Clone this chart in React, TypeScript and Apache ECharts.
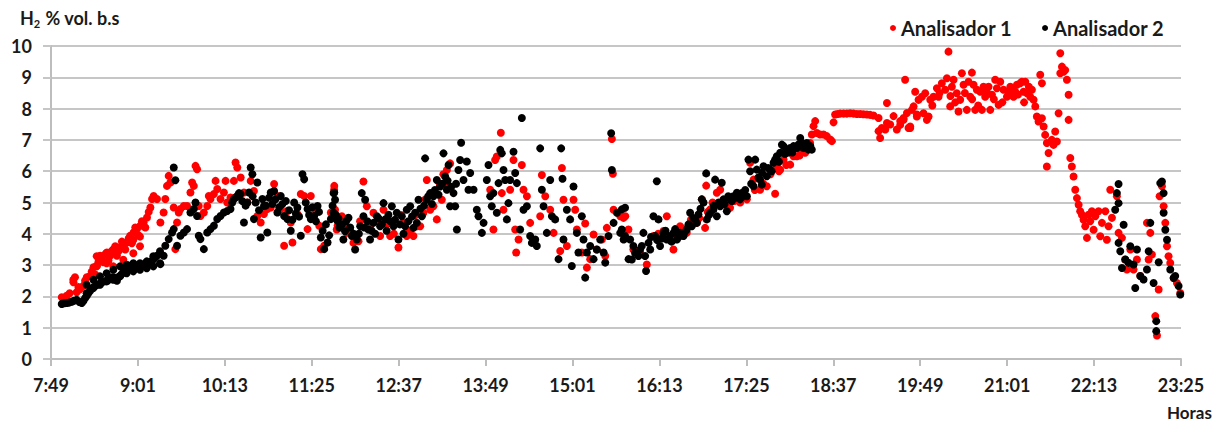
import React, { useEffect, useRef } from "react";
import * as echarts from "echarts";

// x = minutes after 7:49, y = H2 % vol. b.s
const START_MINUTES = 7 * 60 + 49;
const X_TICKS_STEP = 72;
const X_MAX = 936;

const analisador1: [number, number][] = [
  [8.9, 1.97], [13.0, 2.02], [15.5, 2.1], [18.6, 2.45], [19.9, 2.61], [21.3, 2.13], [24.1, 2.23], [26.9, 2.34],
  [22.7, 2.3], [28.2, 2.5], [33.8, 2.8], [36.6, 2.7], [39.3, 3.1], [42.1, 3.2], [44.9, 3.35], [47.6, 3.15],
  [50.4, 3.45], [53.2, 3.6], [56.0, 3.45], [58.7, 3.75], [61.5, 3.5], [64.3, 3.85], [67.0, 3.7], [69.8, 4.2],
  [72.6, 3.95], [75.3, 4.4], [78.1, 4.2], [80.9, 4.7],
  [18.5, 2.53], [37.9, 3.28], [37.9, 2.96], [46.1, 3.38], [46.1, 3.06], [51.6, 3.49], [51.6, 2.96], [59.9, 3.6],
  [59.9, 3.17], [68.2, 3.81], [68.2, 3.38], [73.7, 3.91], [73.7, 3.6],
  [29.6, 2.61], [32.4, 2.66], [35.2, 2.93], [37.9, 2.98], [40.7, 3.3], [43.5, 3.09], [46.3, 3.4], [49.0, 3.3],
  [51.8, 3.51], [54.6, 3.3], [57.3, 3.56], [60.1, 3.62], [62.9, 3.72], [65.6, 3.94], [68.4, 4.04], [71.2, 4.15],
  [74.0, 4.26], [76.7, 4.36], [79.5, 4.52], [82.3, 4.84], [83.7, 5.11], [85.0, 5.21], [87.8, 5.11], [90.6, 4.36],
  [93.3, 4.68], [94.7, 5.11], [96.1, 5.53], [97.5, 5.85], [98.9, 5.64], [101.7, 4.84], [103.0, 3.51], [104.4, 4.36],
  [105.8, 4.68], [107.2, 4.79], [110.0, 4.89], [112.7, 4.89], [115.5, 5.32], [116.9, 5.64], [118.3, 5.53], [119.7, 6.17],
  [121.0, 6.06], [122.4, 4.89], [123.8, 4.57], [126.6, 4.68], [129.4, 4.89], [130.7, 5.21], [132.1, 5.11], [134.9, 5.27],
  [136.3, 5.69], [137.7, 5.43], [140.4, 5.11], [143.2, 5.32], [144.6, 5.69], [146.0, 5.0], [148.7, 5.16], [151.5, 5.69],
  [152.9, 6.28], [154.3, 6.12], [157.1, 5.8], [159.8, 5.32], [162.6, 5.0], [165.4, 5.69], [168.1, 5.37], [170.9, 4.57],
  [173.7, 4.36], [176.4, 4.63], [179.2, 4.79], [182.0, 4.84], [184.8, 5.59], [187.5, 5.21], [190.3, 4.79], [193.1, 3.62],
  [195.8, 4.73], [198.6, 4.36], [200.0, 3.72], [204.1, 4.63], [206.9, 5.27], [209.7, 5.21], [212.5, 4.15], [215.2, 5.21],
  [218.0, 4.79], [222.2, 4.26], [223.5, 3.51], [226.3, 3.62], [231.8, 4.68], [234.6, 5.53], [237.4, 4.26],
  [234.5, 5.41], [235.3, 4.77], [236.7, 4.14], [240.9, 4.56], [245.0, 4.03], [250.5, 3.71], [254.7, 3.76], [258.8, 5.67],
  [243.0, 4.3], [248.0, 4.1], [252.0, 3.9], [256.0, 4.4], [264.0, 4.2], [270.0, 4.4], [278.0, 4.3], [284.0, 4.0],
  [290.0, 4.6], [297.0, 4.1], [302.0, 4.6], [310.0, 5.1], [318.0, 5.3], [322.0, 5.6], [325.0, 5.9],
  [261.6, 4.88], [267.1, 4.67], [272.6, 3.93], [275.4, 4.77], [280.9, 3.93], [287.8, 3.56], [292.0, 4.35], [294.7, 3.93],
  [300.2, 3.93], [303.0, 4.24], [305.8, 4.24], [308.5, 4.67], [311.3, 5.72], [314.1, 4.77], [316.8, 4.88], [319.6, 4.46],
  [323.7, 5.09], [326.5, 5.62], [327.9, 6.04], [330.6, 6.25], [363.8, 5.41], [366.5, 4.14], [367.9, 6.36], [369.3, 6.47],
  [372.6, 7.23], [373.4, 5.3], [374.8, 4.77], [380.3, 5.41], [383.1, 6.36], [384.5, 4.14], [385.3, 3.4], [387.3, 3.82],
  [390.0, 6.2], [391.4, 5.41], [394.2, 5.2], [396.9, 4.35], [405.2, 4.56], [406.6, 5.88], [409.4, 5.2], [413.5, 4.77],
  [416.3, 4.03], [421.8, 3.45], [423.2, 6.1], [424.5, 5.09], [427.3, 3.61], [432.8, 5.09], [434.2, 4.77], [435.6, 4.14],
  [439.7, 3.4], [442.5, 4.33], [443.9, 2.92], [446.6, 3.19], [449.4, 3.98], [452.1, 3.5], [456.3, 3.82], [459.1, 3.29],
  [460.4, 4.19], [464.6, 7.03], [465.4, 5.92], [466.0, 4.77], [471.5, 4.56], [475.7, 4.56],
  [474.2, 4.51], [478.3, 4.14], [482.4, 3.5], [487.9, 3.39], [493.5, 3.02], [499.0, 3.93], [507.3, 4.09], [510.1, 4.56],
  [503.0, 4.0], [512.0, 3.9], [518.0, 4.0], [524.0, 4.15], [530.0, 4.45], [537.0, 4.5], [544.0, 4.7], [548.0, 5.0],
  [556.0, 5.0], [560.0, 4.9], [566.0, 5.05], [574.0, 5.2], [583.0, 5.4], [590.0, 5.6], [596.0, 5.9], [603.0, 6.0],
  [609.0, 6.2], [620.0, 6.5], [626.0, 6.7],
  [515.6, 3.5], [521.1, 4.24], [526.6, 4.03], [534.9, 4.35], [539.1, 5.1], [541.8, 4.19], [542.7, 5.54], [546.0, 4.78],
  [551.5, 5.31], [554.3, 5.41], [557.0, 4.94], [562.5, 4.83], [570.8, 5.0], [576.4, 5.1], [579.1, 6.27], [581.9, 5.73],
  [587.4, 5.41], [592.9, 5.52], [599.8, 5.28], [601.2, 6.16], [604.0, 6.05], [606.8, 6.37], [612.3, 6.21], [615.0, 6.48],
  [617.8, 6.48], [621.9, 6.64], [624.7, 6.59], [628.8, 6.9], [630.2, 7.17], [631.6, 7.44], [633.0, 7.6], [634.4, 7.22],
  [637.1, 7.17], [639.9, 7.17], [642.6, 7.12], [645.4, 7.01], [646.8, 6.96], [648.2, 7.56], [649.5, 7.81], [651.5, 7.83],
  [653.7, 7.84], [656.5, 7.84], [659.2, 7.84], [662.0, 7.85], [664.7, 7.84], [667.5, 7.83], [670.3, 7.83], [673.0, 7.82],
  [675.8, 7.81], [678.5, 7.8], [681.3, 7.78], [685.5, 7.7], [685.5, 7.28], [686.8, 7.06], [688.2, 7.38], [691.0, 7.33],
  [692.4, 7.54], [692.4, 8.18], [695.1, 7.49], [697.9, 7.76], [700.6, 7.33], [703.4, 7.6], [706.2, 7.7], [709.0, 7.86],
  [711.7, 7.38], [714.5, 8.07], [717.2, 7.81],
  [703.4, 7.48], [706.2, 7.64], [707.5, 8.92], [710.3, 7.38], [711.7, 7.43], [713.1, 7.96], [715.8, 8.54], [717.2, 7.75],
  [718.6, 8.28], [721.4, 8.38], [722.7, 7.85], [724.1, 8.49], [725.5, 7.64], [726.9, 7.75], [728.3, 8.28], [731.0, 8.38],
  [730.0, 8.1], [736.0, 8.5], [745.0, 8.4], [749.0, 8.2], [757.0, 8.5], [763.0, 8.3], [768.0, 8.1], [775.0, 8.55],
  [781.0, 8.3], [788.0, 8.2], [796.0, 8.6], [801.0, 8.45], [806.0, 8.2], [810.0, 8.7],
  [733.8, 8.65], [735.2, 8.38], [737.9, 8.81], [740.7, 8.6], [742.1, 8.97], [743.4, 9.82], [744.8, 8.07], [746.2, 8.7],
  [747.6, 8.92], [750.3, 8.49], [751.7, 7.91], [753.1, 8.28], [754.5, 9.13], [755.9, 8.76], [758.6, 7.96], [760.0, 8.86],
  [761.4, 8.38], [762.8, 9.15], [764.2, 8.76], [765.5, 7.96], [766.9, 8.6], [769.7, 8.54], [771.1, 7.96], [772.4, 8.7],
  [773.8, 8.38], [776.6, 8.7], [778.0, 7.96], [779.4, 8.44], [782.1, 8.92], [783.5, 8.65], [784.9, 8.12], [786.3, 8.86],
  [789.0, 8.6], [791.8, 8.38], [793.2, 8.54], [794.6, 8.7], [797.3, 8.38], [798.7, 8.54], [800.1, 8.76], [802.8, 8.81],
  [804.2, 8.86], [805.6, 8.54], [807.0, 8.86], [808.4, 8.49], [811.1, 8.38], [812.5, 8.6], [813.9, 8.28], [815.3, 8.07],
  [816.6, 7.75], [818.0, 7.59], [819.4, 9.08], [820.8, 8.81], [820.8, 7.69], [822.2, 7.43], [823.5, 7.16], [824.9, 6.9],
  [824.9, 6.15], [826.3, 6.58], [829.0, 7.0], [830.4, 6.84], [831.8, 7.27], [833.2, 6.95], [834.6, 7.85], [836.0, 9.77],
  [836.0, 9.13], [837.4, 9.34], [838.7, 9.18], [840.1, 9.23], [841.5, 8.92], [842.9, 8.44], [842.9, 7.64], [844.3, 6.42],
  [845.6, 6.15], [847.0, 5.83], [848.4, 5.41], [849.8, 5.14], [851.2, 4.93], [852.5, 4.72], [853.9, 4.61], [855.3, 4.45],
  [856.7, 4.24], [858.1, 3.87], [859.5, 4.61], [860.8, 4.4], [862.2, 4.72], [863.6, 4.13], [865.0, 4.56], [867.7, 4.72],
  [869.1, 3.92], [870.5, 4.35], [873.3, 4.72], [874.6, 3.81], [876.0, 4.24], [877.4, 5.41], [878.8, 4.51], [882.9, 5.2],
  [884.3, 4.03], [887.1, 3.87], [889.8, 3.18], [891.2, 2.86], [894.0, 3.5], [896.7, 2.86], [899.5, 3.18], [902.3, 2.65],
  [907.8, 4.35], [909.2, 3.18], [910.6, 4.03], [911.9, 3.34], [914.7, 1.37], [916.1, 0.75], [917.5, 2.22], [918.3, 5.2],
  [920.2, 5.52], [921.6, 4.88], [923.0, 4.35], [924.4, 3.6], [925.7, 3.28], [927.1, 3.07], [929.9, 2.59], [932.6, 2.43],
  [935.4, 2.11],
];

const analisador2: [number, number][] = [
  [8.9, 1.76], [11.0, 1.78], [13.0, 1.79], [15.0, 1.8], [17.2, 1.83], [19.0, 1.86], [21.3, 1.89], [23.5, 1.82],
  [25.5, 1.79], [26.9, 1.86], [28.3, 1.95], [29.6, 2.02], [31.0, 2.1], [32.4, 2.18], [33.8, 2.25], [35.2, 2.29],
  [37.2, 2.35], [39.3, 2.39], [41.0, 2.42], [42.1, 2.45], [44.2, 2.48], [46.3, 2.5], [47.6, 2.55], [49.0, 2.55],
  [50.4, 2.6], [51.8, 2.61], [53.2, 2.55], [54.6, 2.5], [56.0, 2.62], [57.3, 2.66], [58.7, 2.72], [60.1, 2.77],
  [61.5, 2.82], [62.9, 2.87], [64.3, 2.92], [65.6, 2.98], [67.0, 2.9], [68.4, 2.93], [69.8, 2.95], [71.2, 2.98],
  [72.6, 3.0], [74.0, 3.03], [75.3, 2.96], [76.7, 2.98], [78.1, 3.05], [79.5, 3.03], [80.9, 3.06], [82.3, 3.09],
  [29.5, 2.37], [29.5, 2.1], [35.1, 2.53], [35.1, 2.27], [40.6, 2.64], [40.6, 2.37], [46.1, 2.74], [46.1, 2.48],
  [51.6, 2.85], [51.6, 2.53], [57.2, 2.96], [57.2, 2.64], [62.7, 3.01], [62.7, 2.74], [68.2, 3.06], [68.2, 2.8],
  [73.7, 3.06], [73.7, 2.85], [79.3, 3.12], [79.3, 2.9], [84.8, 3.28], [84.8, 2.96], [90.3, 3.44], [90.3, 3.06],
  [83.7, 3.15], [85.0, 3.19], [86.4, 3.25], [87.8, 3.3], [90.6, 3.03], [93.3, 3.3], [94.7, 3.62], [97.5, 3.83],
  [100.3, 4.04], [101.7, 6.12], [103.0, 5.71], [101.7, 4.15], [104.4, 3.62], [107.2, 3.94], [110.0, 4.04], [112.7, 4.15],
  [115.5, 4.68], [118.3, 4.79], [119.7, 5.0], [121.0, 4.57], [122.4, 3.94], [123.8, 3.83], [126.6, 3.51], [129.4, 4.04],
  [132.1, 4.15], [134.9, 4.26], [137.7, 4.47], [140.4, 4.57], [143.2, 4.68], [146.0, 4.73], [148.7, 4.79], [151.5, 5.11],
  [154.3, 5.21], [157.1, 5.27], [159.8, 4.36], [162.6, 5.0], [164.0, 5.32], [165.4, 6.12], [166.8, 5.9], [168.1, 4.47],
  [150.1, 5.0], [152.9, 5.16], [155.7, 5.3], [158.4, 5.05], [161.2, 4.9], [167.0, 5.2], [169.5, 5.0], [172.3, 4.75],
  [178.0, 4.9], [180.6, 5.15], [183.4, 4.95], [186.0, 5.1], [189.0, 4.85], [191.7, 4.95], [194.5, 5.05], [197.2, 4.75],
  [200.0, 4.45], [202.8, 4.65], [205.5, 4.55], [211.0, 5.0], [213.8, 4.6], [216.6, 4.85], [219.4, 4.4], [222.0, 4.7],
  [225.0, 4.1], [227.7, 4.3], [230.4, 3.95], [233.2, 4.9], [236.0, 4.6], [238.8, 4.2],
  [170.9, 5.64], [173.7, 3.88], [175.1, 5.11], [176.4, 4.89], [179.2, 4.04], [182.0, 5.32], [184.8, 5.37], [187.5, 4.68],
  [190.3, 5.21], [193.1, 4.57], [195.8, 4.47], [198.6, 4.1], [201.4, 5.0], [204.1, 4.84], [206.9, 3.94], [208.3, 5.9],
  [209.7, 5.74], [212.5, 4.79], [215.2, 4.47], [218.0, 4.57], [220.8, 4.89], [223.5, 3.88], [226.3, 3.51], [229.1, 3.72],
  [231.8, 4.47], [234.6, 5.32], [237.4, 4.41],
  [234.0, 5.3], [235.3, 5.09], [234.0, 4.67], [236.7, 4.46], [239.5, 4.24], [242.2, 3.82], [243.6, 4.08], [246.4, 4.51],
  [238.1, 4.5], [241.0, 4.3], [244.5, 4.4], [247.8, 4.2], [250.6, 4.0], [255.0, 4.0], [259.5, 4.2], [262.0, 4.4],
  [265.6, 4.1], [268.5, 4.0], [271.2, 4.5], [274.0, 4.3], [278.0, 4.1], [281.0, 4.4], [285.0, 4.45], [289.0, 4.3],
  [292.0, 4.0], [296.0, 4.4], [299.0, 4.55], [303.0, 4.35], [306.0, 4.8], [309.0, 4.9], [312.5, 5.2], [315.5, 4.95],
  [318.0, 5.4], [321.0, 5.25], [324.0, 5.6], [328.5, 5.7], [331.5, 5.5], [335.5, 5.6],
  [249.2, 3.93], [251.9, 3.5], [253.3, 3.82], [256.1, 4.24], [257.4, 5.3], [258.8, 4.56], [260.2, 5.09], [263.0, 4.14],
  [264.3, 3.82], [267.1, 4.35], [269.9, 4.56], [272.6, 4.24], [275.4, 4.98], [276.8, 4.46], [279.5, 4.61], [282.3, 4.88],
  [283.7, 4.24], [286.4, 4.67], [287.8, 3.82], [290.6, 4.56], [293.3, 4.24], [294.7, 4.77], [297.5, 4.88], [300.2, 4.19],
  [301.6, 4.67], [304.4, 5.09], [307.2, 4.56], [309.9, 6.41], [311.3, 5.09], [314.1, 5.3], [316.8, 5.2], [319.6, 5.72],
  [322.3, 5.51], [325.1, 6.57], [326.5, 5.83], [327.9, 5.41], [329.3, 6.2], [330.6, 4.88], [333.4, 5.3], [334.8, 4.88],
  [336.2, 4.14], [337.5, 6.04], [338.9, 6.36], [339.7, 6.91], [341.7, 5.72], [344.4, 6.31], [345.8, 5.41], [347.2, 5.94],
  [350.0, 5.41], [352.7, 4.77], [354.1, 4.56], [356.9, 4.03], [358.3, 4.35], [361.0, 5.72], [362.4, 6.2], [363.8, 5.2],
  [365.1, 4.88], [366.5, 5.3], [369.3, 4.67], [370.7, 5.62], [372.1, 6.68], [373.4, 6.57], [374.8, 6.04], [376.2, 5.72],
  [377.6, 4.46], [378.9, 4.98], [380.3, 5.72], [383.1, 6.62], [384.5, 5.94], [385.9, 5.62], [388.6, 4.14], [390.0, 7.7],
  [391.4, 4.77], [394.2, 4.88], [396.9, 3.93], [398.3, 3.71], [401.1, 3.82], [402.4, 3.61], [405.2, 6.73], [406.6, 5.41],
  [408.0, 4.88], [410.7, 4.03], [413.5, 5.72], [414.9, 4.56], [417.6, 4.46], [420.4, 3.19], [422.6, 6.73], [423.7, 5.76],
  [424.5, 3.82], [427.3, 4.77], [430.0, 4.46], [431.4, 2.97], [432.8, 5.51], [435.6, 4.03], [436.9, 3.4], [439.7, 4.56],
  [441.1, 3.82], [442.5, 2.6], [443.9, 3.4], [446.6, 3.61], [449.4, 3.19], [452.1, 3.5], [454.9, 3.82], [457.7, 3.4],
  [459.1, 3.08], [461.8, 3.93], [464.0, 7.21], [464.6, 6.04], [466.0, 4.35], [468.8, 4.67], [471.5, 4.03], [474.3, 3.82],
  [478.4, 3.19],
  [472.8, 4.78], [475.5, 4.83], [472.8, 4.14], [475.5, 3.93], [479.7, 3.82], [482.4, 3.61], [481.1, 3.18], [483.8, 3.39],
  [486.6, 3.29], [489.4, 3.61], [490.7, 4.03], [492.1, 3.29], [492.9, 2.81], [494.9, 3.71], [496.3, 3.5], [499.0, 4.56],
  [488.0, 3.5], [497.0, 3.9], [502.0, 3.8], [506.0, 3.85], [509.0, 4.1], [514.0, 3.75], [517.0, 4.15], [520.0, 3.9],
  [525.0, 4.05], [528.0, 4.3], [532.0, 4.5], [535.0, 4.35], [538.0, 4.8], [545.0, 4.6], [549.0, 4.9], [553.0, 5.0],
  [558.0, 4.95], [561.0, 5.2], [564.0, 5.05], [567.0, 5.15], [572.0, 5.3], [575.0, 5.4], [580.0, 5.6], [586.0, 5.8],
  [589.0, 5.95], [594.0, 6.1], [597.0, 6.0], [603.0, 6.3], [608.0, 6.55], [611.0, 6.6], [614.0, 6.6], [619.0, 6.85],
  [623.0, 6.75], [626.0, 6.9], [629.0, 6.8],
  [500.4, 3.93], [501.8, 5.68], [503.2, 4.46], [504.5, 3.61], [507.3, 4.03], [510.1, 3.82], [512.8, 3.93], [515.6, 4.03],
  [518.4, 3.82], [521.1, 4.03], [523.9, 3.93], [526.6, 4.14], [529.4, 4.67], [530.8, 4.24], [533.5, 4.46], [536.3, 4.62],
  [539.1, 5.1], [540.5, 5.0], [542.7, 5.93], [543.2, 4.46], [546.0, 4.67], [548.7, 4.78], [550.1, 5.73], [551.5, 4.56],
  [554.3, 4.88], [555.6, 5.63], [557.0, 5.1], [559.8, 4.72], [562.5, 5.1], [565.3, 5.2], [568.1, 5.31], [570.8, 5.1],
  [573.6, 5.2], [576.4, 5.2], [577.7, 6.37], [579.1, 6.0], [581.9, 5.52], [583.3, 6.37], [584.6, 6.05], [587.4, 5.73],
  [588.8, 5.57], [590.2, 6.16], [592.9, 5.84], [595.7, 6.05], [598.5, 6.27], [599.8, 6.37], [601.2, 6.48], [604.0, 6.59],
  [605.4, 6.85], [606.8, 6.8], [609.5, 6.69], [612.3, 6.74], [615.0, 6.8], [617.8, 6.74], [620.6, 7.06], [621.9, 6.9],
  [624.7, 6.74], [627.5, 6.69], [630.2, 6.69],
  [884.3, 5.59], [882.9, 5.3], [884.3, 4.98], [881.5, 4.77], [888.5, 4.29], [884.3, 3.71], [885.7, 3.44], [887.1, 2.91],
  [889.8, 3.18], [892.6, 3.07], [894.0, 3.6], [896.7, 3.02], [899.5, 3.5], [898.1, 2.27], [902.3, 2.65], [905.0, 2.54],
  [907.8, 2.86], [909.2, 3.44], [910.6, 4.35], [913.3, 2.43], [915.5, 1.21], [915.5, 0.89], [917.5, 3.09], [918.8, 5.62],
  [920.2, 5.67], [921.6, 5.3], [921.6, 4.67], [923.0, 4.13], [924.4, 3.81], [927.1, 2.86], [929.9, 2.59], [931.2, 2.65],
  [934.0, 2.33], [935.4, 2.06],
];

const FONT = "Lato, 'Open Sans', sans-serif";

function fmtTime(v: number): string {
  const m = Math.round(START_MINUTES + v);
  const h = Math.floor(m / 60);
  const mm = m % 60;
  return `${h}:${mm < 10 ? "0" + mm : mm}`;
}

export default function App() {
  const ref = useRef<HTMLDivElement>(null);
  useEffect(() => {
    if (!ref.current) return;
    const chart = echarts.init(ref.current, null, { renderer: "svg" });
    chart.setOption({
      animation: false,
      backgroundColor: "#ffffff",
      grid: { left: 51, right: 44, top: 46, bottom: 64, containLabel: false },
      legend: {
        left: 885,
        top: 13,
        itemWidth: 6,
        itemHeight: 6,
        itemGap: 30,
        icon: "circle",
        textStyle: { fontFamily: FONT, fontWeight: "bold", fontSize: 20, color: "#1a1a1a" },
        data: ["Analisador 1", "Analisador 2"],
      },
      graphic: [
        {
          type: "text",
          left: 20,
          top: 9,
          style: {
            text: "H{sub|2} % vol. b.s",
            fontFamily: FONT,
            fontWeight: "bold",
            fontSize: 18,
            fill: "#1a1a1a",
            rich: {
              sub: { fontFamily: FONT, fontWeight: "bold", fontSize: 11, fill: "#1a1a1a", padding: [10, 1, 0, 0] },
            },
          },
        },
        {
          type: "text",
          left: 1167,
          top: 404,
          style: { text: "Horas", fontFamily: FONT, fontWeight: "bold", fontSize: 17, fill: "#1a1a1a" },
        },
      ],
      xAxis: {
        type: "value",
        min: 0,
        max: X_MAX,
        interval: X_TICKS_STEP,
        splitLine: { show: false },
        axisLine: { show: true, lineStyle: { color: "#bdbdbd", width: 2 } },
        axisTick: { show: true, length: 7, lineStyle: { color: "#bdbdbd", width: 2 } },
        axisLabel: {
          margin: 17,
          fontFamily: FONT,
          fontWeight: "bold",
          fontSize: 18,
          color: "#1a1a1a",
          formatter: (v: number) => fmtTime(v),
        },
      },
      yAxis: {
        type: "value",
        min: 0,
        max: 10,
        interval: 1,
        splitLine: { show: true, lineStyle: { color: "#c6c6c6", width: 2 } },
        axisLine: { show: true, lineStyle: { color: "#bdbdbd", width: 2 } },
        axisTick: { show: true, length: 8, lineStyle: { color: "#c6c6c6", width: 2 } },
        axisLabel: { margin: 19, fontFamily: FONT, fontWeight: "bold", fontSize: 18, color: "#1a1a1a" },
      },
      series: [
        {
          name: "Analisador 1",
          type: "scatter",
          data: analisador1,
          symbolSize: 8,
          itemStyle: { color: "#ff0000", opacity: 1 },
        },
        {
          name: "Analisador 2",
          type: "scatter",
          data: analisador2,
          symbolSize: 8,
          itemStyle: { color: "#000000", opacity: 1 },
        },
      ],
    });
    return () => chart.dispose();
  }, []);
  return (
    <div
      ref={ref}
      style={{ position: "absolute", left: 0, top: 0, width: 1225, height: 423 }}
    />
  );
}
